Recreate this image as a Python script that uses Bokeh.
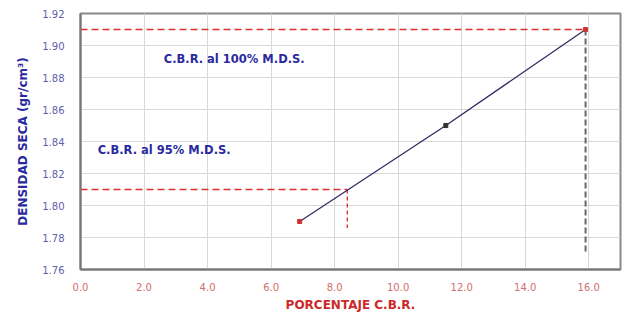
from bokeh.plotting import figure
from bokeh.embed import file_html
from bokeh.resources import INLINE
from bokeh.models import Range1d, FixedTicker, CustomJSTickFormatter, Label

# Data
cbr = [6.9, 11.5, 15.9]
densidad = [1.79, 1.85, 1.91]
mds_100 = 1.91
mds_95 = 1.81
cbr_95 = 8.4
cbr_100 = 15.9
x_ticks = [0, 2, 4, 6, 8, 10, 12, 14, 16]
y_ticks = [1.76, 1.78, 1.80, 1.82, 1.84, 1.86, 1.88, 1.90, 1.92]

p = figure(width=625, height=314, output_backend="svg", toolbar_location=None,
           x_range=Range1d(0, 17), y_range=Range1d(1.76, 1.92),
           min_border_left=80, min_border_right=5, min_border_top=13, min_border_bottom=42)

p.outline_line_color = "#8a8a8a"
p.outline_line_width = 2
p.background_fill_color = "white"
p.border_fill_color = "white"

p.xgrid.grid_line_color = "#d8d8d8"
p.ygrid.grid_line_color = "#d8d8d8"
p.xaxis.ticker = FixedTicker(ticks=x_ticks)
p.yaxis.ticker = FixedTicker(ticks=y_ticks)
p.xaxis.formatter = CustomJSTickFormatter(code="return tick.toFixed(1);")
p.yaxis.formatter = CustomJSTickFormatter(code="return tick.toFixed(2);")

for ax in (p.xaxis, p.yaxis):
    ax.axis_line_color = "#777777"
    ax.axis_line_width = 2
    ax.major_tick_line_color = None
    ax.minor_tick_line_color = None
    ax.major_label_text_font = "DejaVu Sans"
    ax.major_label_text_font_size = "10px"
    ax.axis_label_text_font = "DejaVu Sans"
    ax.axis_label_text_font_size = "12px"
    ax.axis_label_text_font_style = "bold"

p.xaxis.major_label_text_color = "#d07070"
p.yaxis.major_label_text_color = "#6060a8"
p.xaxis.axis_label = "PORCENTAJE C.B.R."
p.xaxis.axis_label_text_color = "#cc2a2a"
p.xaxis.axis_label_standoff = 4
p.yaxis.axis_label = "DENSIDAD SECA (gr/cm³)"
p.yaxis.axis_label_text_color = "#2a2aa0"
p.yaxis.axis_label_standoff = 9
p.xaxis.major_label_standoff = 7
p.yaxis.major_label_standoff = 10

# Reference dashed lines
p.line([0, cbr_100], [mds_100, mds_100], line_color="#dd3030", line_dash="7 4", line_width=1.6)
p.line([cbr_100, cbr_100], [mds_100, 1.7705], line_color="#666666", line_dash="6 3", line_width=2)
p.line([0, cbr_95], [mds_95, mds_95], line_color="#dd3030", line_dash="7 4", line_width=1.6)
p.line([cbr_95, cbr_95], [mds_95, 1.786], line_color="#dd3030", line_dash="4 3", line_width=1.4)

# Data line and points
p.line(cbr, densidad, line_color="#2e2e66", line_width=1.3)
p.scatter(cbr, densidad, marker="square", size=4, color=["#cc3333", "#333333", "#cc3333"])

p.add_layout(Label(x=2.62, y=1.8915, text="C.B.R. al 100% M.D.S.", text_font="DejaVu Sans",
                   text_font_size="11.5px", text_font_style="bold", text_color="#2a2aa0",
                   text_baseline="middle"))
p.add_layout(Label(x=0.54, y=1.835, text="C.B.R. al 95% M.D.S.", text_font="DejaVu Sans",
                   text_font_size="11.5px", text_font_style="bold", text_color="#2a2aa0",
                   text_baseline="middle"))

open("out.html", "w").write(file_html(p, INLINE))
